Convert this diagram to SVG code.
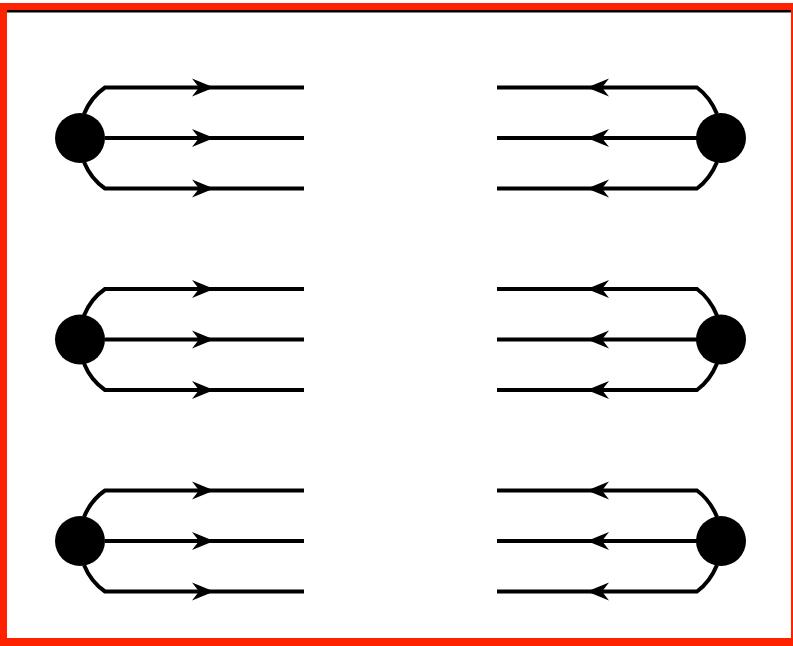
<svg xmlns="http://www.w3.org/2000/svg" xmlns:xlink="http://www.w3.org/1999/xlink" width="793" height="646" viewBox="0 0 793 646">
<style>
.ln{fill:none;stroke:#000;stroke-width:4}
.nd{fill:#000}
</style>
<defs>
<path id="ar" d="M0,0 L-22,-9 L-15,0 L-22,9 Z" fill="#000"/>
<path id="al" d="M0,0 L22,-9 L15,0 L22,9 Z" fill="#000"/>
<g id="L">
<path class="ln" d="M84,114 Q91,97 105,87.5 H304"/>
<path class="ln" d="M105,138 H304"/>
<path class="ln" d="M84,162 Q91,179 105,188.5 H304"/>
<use xlink:href="#ar" x="214" y="87.5"/>
<use xlink:href="#ar" x="214" y="138"/>
<use xlink:href="#ar" x="214" y="188.5"/>
</g>
<g id="R">
<path class="ln" d="M717,114 Q710,97 697,87.5 H497"/>
<path class="ln" d="M697,138 H497"/>
<path class="ln" d="M717,162 Q710,179 697,188.5 H497"/>
<use xlink:href="#al" x="587" y="87.5"/>
<use xlink:href="#al" x="587" y="138"/>
<use xlink:href="#al" x="587" y="188.5"/>
</g>
</defs>
<rect x="0" y="0" width="793" height="646" fill="#fff"/>
<rect x="0" y="3" width="793" height="643" fill="#ff2200"/>
<rect x="7" y="10" width="784" height="628" fill="#fff"/>
<rect x="7" y="10" width="784" height="2.5" fill="#000"/>
<g id="connectors">
<use xlink:href="#L"/>
<use xlink:href="#R"/>
<use xlink:href="#L" y="201.5"/>
<use xlink:href="#R" y="201.5"/>
<use xlink:href="#L" y="403"/>
<use xlink:href="#R" y="403"/>
</g>
<g id="node-l1"><circle class="nd" cx="80" cy="138" r="25"/></g>
<g id="node-r1"><circle class="nd" cx="721" cy="138" r="25"/></g>
<g id="node-l2"><circle class="nd" cx="80" cy="339.5" r="25"/></g>
<g id="node-r2"><circle class="nd" cx="721" cy="339.5" r="25"/></g>
<g id="node-l3"><circle class="nd" cx="80" cy="541" r="25"/></g>
<g id="node-r3"><circle class="nd" cx="721" cy="541" r="25"/></g>
</svg>
